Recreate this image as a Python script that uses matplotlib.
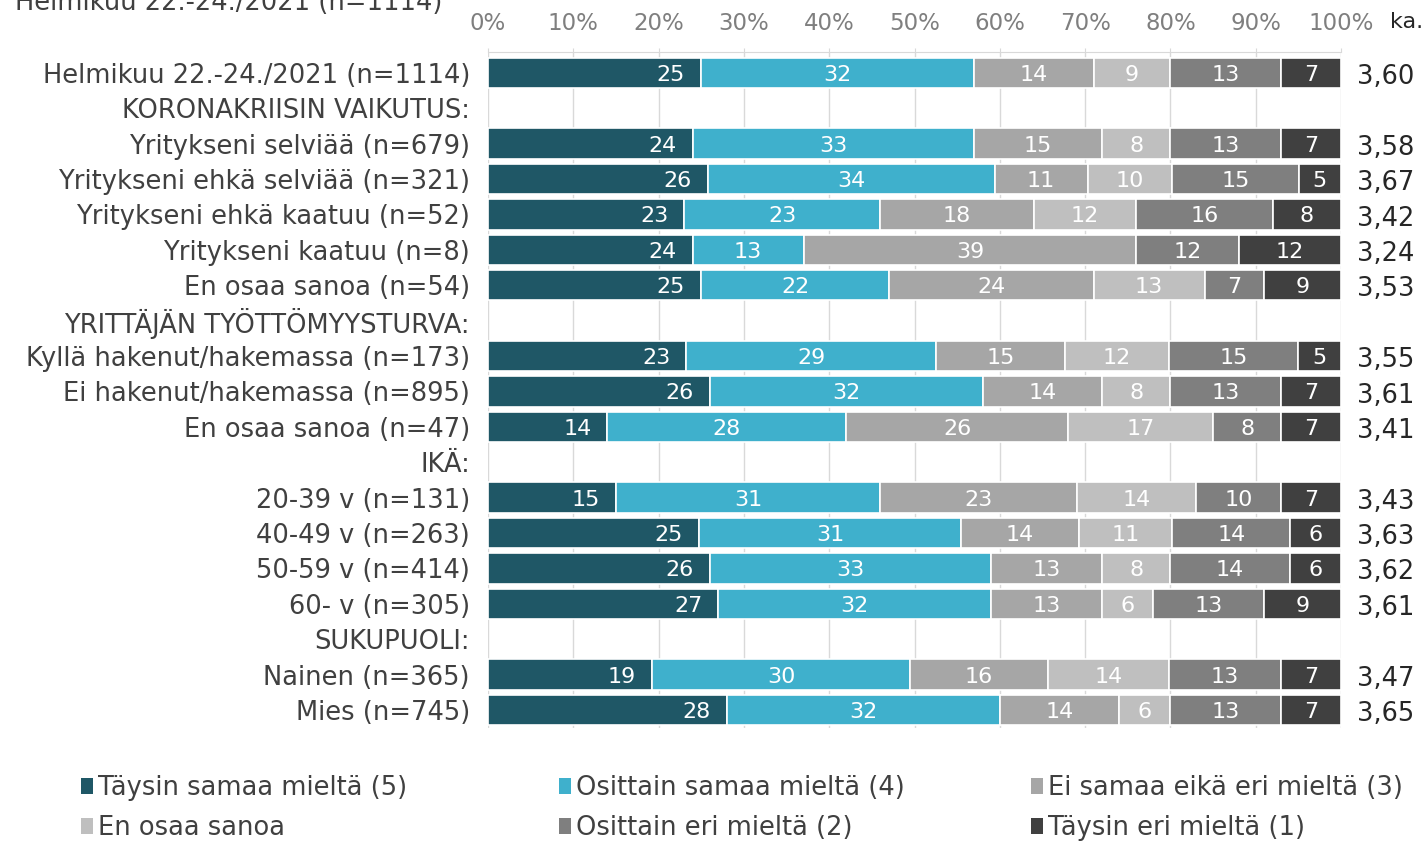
import numpy as np
import matplotlib.pyplot as plt
from matplotlib.patches import Patch

plt.rcParams['font.family'] = ['DejaVu Sans']

rows = ['Helmikuu 22.-24./2021 (n=1114)', 'KORONAKRIISIN VAIKUTUS:',
        'Yritykseni selviää (n=679)', 'Yritykseni ehkä selviää (n=321)',
        'Yritykseni ehkä kaatuu (n=52)', 'Yritykseni kaatuu (n=8)',
        'En osaa sanoa (n=54)', 'YRITTÄJÄN TYÖTTÖMYYSTURVA:',
        'Kyllä hakenut/hakemassa (n=173)', 'Ei hakenut/hakemassa (n=895)',
        'En osaa sanoa (n=47)', 'IKÄ:',
        '20-39 v (n=131)', '40-49 v (n=263)', '50-59 v (n=414)', '60- v (n=305)',
        'SUKUPUOLI:', 'Nainen (n=365)', 'Mies (n=745)']

# None = otsikkorivi (ei palkkia)
taysin_samaa = [25, None, 24, 26, 23, 24, 25, None, 23, 26, 14, None, 15, 25, 26, 27, None, 19, 28]
osittain_samaa = [32, None, 33, 34, 23, 13, 22, None, 29, 32, 28, None, 31, 31, 33, 32, None, 30, 32]
ei_samaa = [14, None, 15, 11, 18, 39, 24, None, 15, 14, 26, None, 23, 14, 13, 13, None, 16, 14]
en_osaa = [9, None, 8, 10, 12, 0, 13, None, 12, 8, 17, None, 14, 11, 8, 6, None, 14, 6]
osittain_eri = [13, None, 13, 15, 16, 12, 7, None, 15, 13, 8, None, 10, 14, 14, 13, None, 13, 13]
taysin_eri = [7, None, 7, 5, 8, 12, 9, None, 5, 7, 7, None, 7, 6, 6, 9, None, 7, 7]
keskiarvo = [3.60, None, 3.58, 3.67, 3.42, 3.24, 3.53, None, 3.55, 3.61, 3.41, None,
             3.43, 3.63, 3.62, 3.61, None, 3.47, 3.65]

series_names = ['Täysin samaa mieltä (5)', 'Osittain samaa mieltä (4)',
                'Ei samaa eikä eri mieltä (3)', 'En osaa sanoa',
                'Osittain eri mieltä (2)', 'Täysin eri mieltä (1)']
colors = ['#1f5766', '#3fb0cc', '#a6a6a6', '#bfbfbf', '#7f7f7f', '#404040']
xticks = [0, 10, 20, 30, 40, 50, 60, 70, 80, 90, 100]

series = [taysin_samaa, osittain_samaa, ei_samaa, en_osaa, osittain_eri, taysin_eri]
vals = np.array([[np.nan if v is None else v for v in s] for s in series], dtype=float)
# skaalataan rivit 100 %:iin
tot = np.nansum(vals, axis=0)
tot[tot == 0] = 1
shares = vals / tot * 100

fig = plt.figure(figsize=(14.27, 8.41), dpi=100)
ax = fig.add_axes([488 / 1427, 1 - 728 / 841, (1341 - 488) / 1427, (728 - 52) / 841])

y = np.arange(len(rows))
left = np.zeros(len(rows))
for i in range(len(series)):
    w = np.nan_to_num(shares[i])
    mask = ~np.isnan(vals[i]) & (vals[i] > 0)
    ax.barh(y[mask], w[mask], left=left[mask], height=0.86, color=colors[i],
            edgecolor='white', linewidth=1.2, zorder=3)
    for yy, l, ww, v in zip(y[mask], left[mask], w[mask], vals[i][mask]):
        if i == 0:
            # ensimmäisen sarjan luku palkin sisäpäähän
            ax.annotate(f'{int(v)}', (l + ww, yy), xytext=(-16, 0), textcoords='offset pixels',
                        ha='right', va='center_baseline', color='white', fontsize=16, zorder=4)
        else:
            ax.text(l + ww / 2, yy, f'{int(v)}', ha='center', va='center_baseline',
                    color='white', fontsize=16, zorder=4)
    left = left + w

for yy, k in zip(y, keskiarvo):
    if k is not None:
        ax.text(1357 / 1427, 1 - (74 + yy * 35.39) / 841, f'{k:.2f}'.replace('.', ','),
                transform=fig.transFigure, ha='left', va='center_baseline', fontsize=18.5, color='#262626')
fig.text(1390 / 1427, 1 - 22 / 841, 'ka.', ha='left', va='center', fontsize=16, color='#262626')
fig.text(15 / 1427, 1 - 3 / 841, 'Helmikuu 22.-24./2021 (n=1114)', ha='left', va='center',
         fontsize=18.5, color='#404040')

ax.set_xlim(0, 100)
ax.set_ylim(18.51, -0.59)
ax.set_yticks(y)
ax.set_yticklabels(rows, fontsize=18.5, color='#404040', va='center_baseline')
ax.tick_params(axis='y', length=0, pad=13)
ax.xaxis.tick_top()
ax.set_xticks(xticks)
ax.set_xticklabels([f'{t}%' for t in xticks], fontsize=16.5, color='#7f7f7f')
ax.tick_params(axis='x', length=3, color='#d9d9d9', pad=9)
ax.grid(axis='x', color='#d9d9d9', linewidth=1, zorder=0)
for s in ['right', 'bottom', 'left']:
    ax.spines[s].set_visible(False)
ax.spines['top'].set_color('#d9d9d9')

# selite kolmessa sarakkeessa
legend_x = [81 / 1427, 559 / 1427, 1031 / 1427]
for c in range(3):
    hs = [Patch(facecolor=colors[c], edgecolor='none'), Patch(facecolor=colors[c + 3], edgecolor='none')]
    fig.legend(hs, [series_names[c], series_names[c + 3]], loc='upper left',
               bbox_to_anchor=(legend_x[c], 1 - 775 / 841), frameon=False,
               fontsize=18.5, handlelength=0.45, handleheight=0.6, handletextpad=0.2,
               labelspacing=0.55, borderaxespad=0, borderpad=0, labelcolor='#404040')

fig.savefig('out.png', dpi=100)
